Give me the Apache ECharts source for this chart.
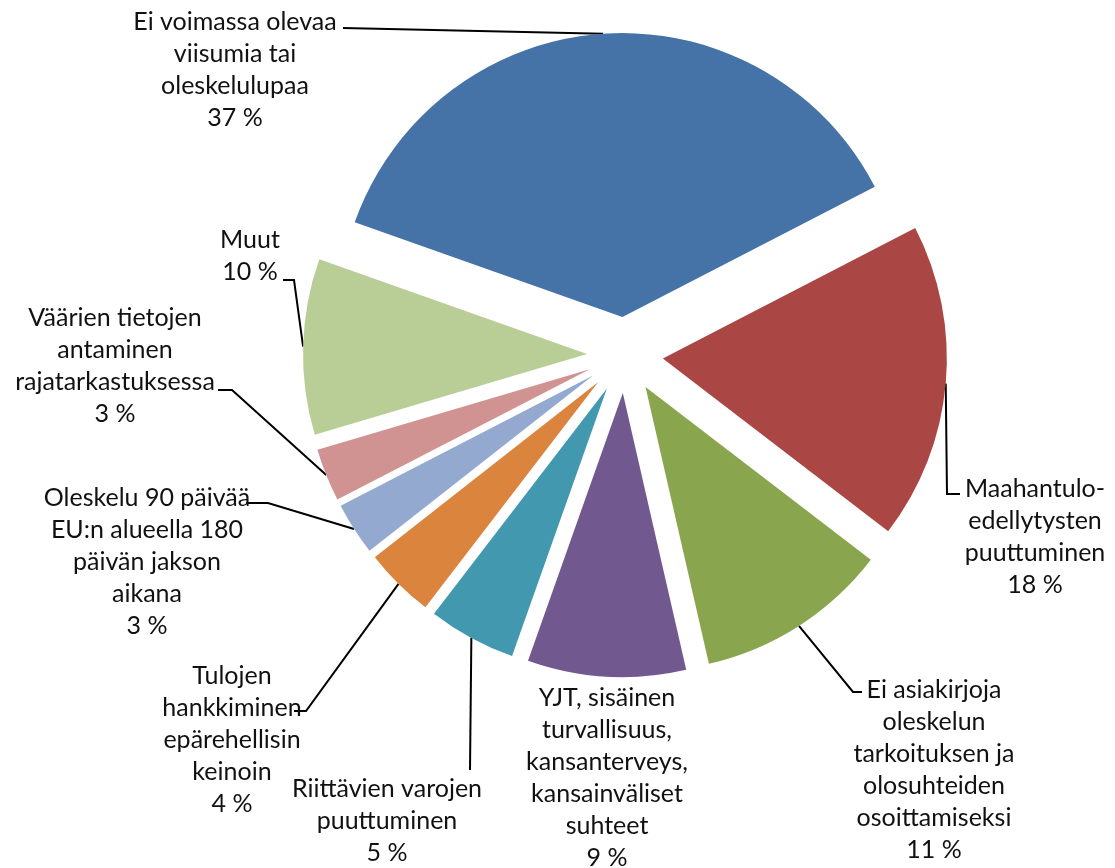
<!DOCTYPE html>
<html>
<head>
<meta charset="utf-8">
<script src="https://cdn.jsdelivr.net/npm/echarts@6/dist/echarts.min.js"></script>
<style>
  html, body { margin: 0; padding: 0; background: #fff; }
  #chart { width: 1115px; height: 868px; }
</style>
</head>
<body>
<div id="chart"></div>
<script>
// data (percent shares)
const categories = [
  'Ei voimassa olevaa\nviisumia tai\noleskelulupaa',
  'Maahantulo-\nedellytysten\npuuttuminen',
  'Ei asiakirjoja\noleskelun\ntarkoituksen ja\nolosuhteiden\nosoittamiseksi',
  'YJT, sisäinen\nturvallisuus,\nkansanterveys,\nkansainväliset\nsuhteet',
  'Riittävien varojen\npuuttuminen',
  'Tulojen\nhankkiminen\nepärehellisin\nkeinoin',
  'Oleskelu 90 päivää\nEU:n alueella 180\npäivän jakson\naikana',
  'Väärien tietojen\nantaminen\nrajatarkastuksessa',
  'Muut'
]
const shares = [37, 18, 11, 9, 5, 4, 3, 3, 10]

const colors = ['#4572A7', '#AA4643', '#89A54E', '#71588F', '#4198AF', '#DB843D', '#93A9CF', '#D19392', '#B9CD96']

// where each label block sits, and the bend points of its leader line
const labelSpots = [
  { x: 235, y: 70, line: [[343, 28]] },
  { x: 1035, y: 537, line: [[947, 494], [960, 494]] },
  { x: 934, y: 770, line: [[853, 692], [862, 692]] },
  { x: 607, y: 778, line: null },
  { x: 387, y: 821, line: [[470, 770]] },
  { x: 232, y: 740, line: [[306, 711], [294, 711]] },
  { x: 147, y: 562, line: [[268, 503], [246, 503]] },
  { x: 115, y: 366, line: [[232, 390], [218, 390]] },
  { x: 250, y: 256, line: [[294, 280], [283, 280]] }
]

const pieCenter = [625, 355]
const pieRadius = 284
const explode = 38
const startAngle = 160.5

const chart = echarts.init(document.getElementById('chart'))

// leader line starts on the exploded slice edge
const pushOut = pt => {
  const dx = pt[0] - pieCenter[0]
  const dy = pt[1] - pieCenter[1]
  const len = Math.sqrt(dx * dx + dy * dy) || 1
  return [pt[0] + dx / len * explode, pt[1] + dy / len * explode]
}

const option = {
  animation: false,
  series: [
    {
      // exploded slices
      name: 'slices',
      type: 'pie',
      center: pieCenter,
      radius: pieRadius,
      startAngle: startAngle,
      selectedMode: 'multiple',
      selectedOffset: explode,
      emphasis: { disabled: true },
      label: { show: false },
      labelLine: { show: false },
      data: categories.map((name, i) => ({
        name,
        value: shares[i],
        selected: true,
        itemStyle: { color: colors[i] }
      }))
    },
    {
      // same pie, invisible, only carries the labels
      name: 'labels',
      type: 'pie',
      silent: true,
      center: pieCenter,
      radius: pieRadius,
      startAngle: startAngle,
      avoidLabelOverlap: false,
      emphasis: { disabled: true },
      itemStyle: { color: 'rgba(0,0,0,0)' },
      label: {
        show: true,
        position: 'outside',
        formatter: p => p.name + '\n' + p.value + ' %',
        fontFamily: 'Lato',
        fontSize: 25,
        lineHeight: 32,
        color: '#111',
        align: 'center'
      },
      labelLine: {
        show: true,
        lineStyle: { color: '#000', width: 2 }
      },
      labelLayout: params => {
        const spot = labelSpots[params.dataIndex]
        const out = { x: spot.x, y: spot.y, align: 'center', verticalAlign: 'middle' }
        if (spot.line && params.labelLinePoints) {
          out.labelLinePoints = [pushOut(params.labelLinePoints[0])].concat(spot.line)
        }
        return out
      },
      data: categories.map((name, i) => ({
        name,
        value: shares[i],
        labelLine: { show: labelSpots[i].line !== null }
      }))
    }
  ]
}

chart.setOption(option)
window.addEventListener('resize', () => chart.resize())
</script>
</body>
</html>
